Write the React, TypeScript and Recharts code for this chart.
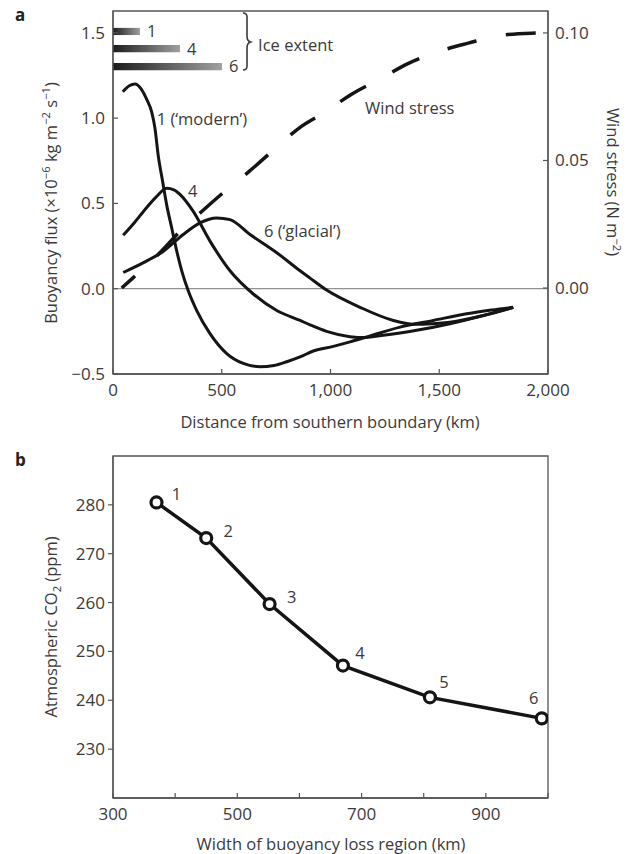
import React from 'react';
import {
  LineChart,
  Line,
  XAxis,
  YAxis,
  ReferenceLine,
  ReferenceArea,
  ReferenceDot,
  LabelList,
} from 'recharts';

const FONT = '"Open Sans", "Noto Sans", sans-serif';
const INK = '#3a3a3a';
const AXIS = '#555';
const CURVE = '#151515';

// ---- panel a: buoyancy flux and wind stress vs distance ----
const distTicks = [0, 500, 1000, 1500, 2000];
const fluxTicks = [-0.5, 0, 0.5, 1, 1.5];
const windTicks = [0, 0.05, 0.1];
const distDomain = [0, 2000];
const fluxDomain = [-0.5, 1.628];
const windDomain = [-0.0337, 0.1086];

const modernFlux = [
  { x: 45, y: 1.155 }, { x: 75, y: 1.19 }, { x: 101, y: 1.2 }, { x: 130, y: 1.17 },
  { x: 155, y: 1.11 }, { x: 178, y: 1.035 }, { x: 193, y: 0.94 }, { x: 208, y: 0.78 },
  { x: 228, y: 0.63 }, { x: 247, y: 0.49 }, { x: 270, y: 0.356 }, { x: 293, y: 0.221 },
  { x: 316, y: 0.105 }, { x: 346, y: -0.012 }, { x: 385, y: -0.128 }, { x: 446, y: -0.263 },
  { x: 523, y: -0.38 }, { x: 599, y: -0.438 }, { x: 676, y: -0.457 }, { x: 740, y: -0.45 },
  { x: 799, y: -0.428 }, { x: 860, y: -0.4 }, { x: 921, y: -0.365 }, { x: 1013, y: -0.338 },
  { x: 1090, y: -0.312 }, { x: 1166, y: -0.283 }, { x: 1320, y: -0.225 }, { x: 1473, y: -0.186 },
  { x: 1626, y: -0.147 }, { x: 1740, y: -0.125 }, { x: 1840, y: -0.109 },
];

const run4Flux = [
  { x: 47, y: 0.314 }, { x: 100, y: 0.39 }, { x: 140, y: 0.453 }, { x: 200, y: 0.54 },
  { x: 247, y: 0.589 }, { x: 280, y: 0.58 }, { x: 310, y: 0.55 }, { x: 369, y: 0.453 },
  { x: 446, y: 0.279 }, { x: 538, y: 0.105 }, { x: 645, y: -0.031 }, { x: 753, y: -0.128 },
  { x: 860, y: -0.186 }, { x: 906, y: -0.212 }, { x: 982, y: -0.25 }, { x: 1090, y: -0.281 },
  { x: 1160, y: -0.286 }, { x: 1243, y: -0.273 }, { x: 1396, y: -0.244 }, { x: 1549, y: -0.205 },
  { x: 1703, y: -0.157 }, { x: 1840, y: -0.109 },
];

const glacialFlux = [
  { x: 47, y: 0.095 }, { x: 140, y: 0.153 }, { x: 232, y: 0.22 }, { x: 323, y: 0.318 },
  { x: 400, y: 0.386 }, { x: 477, y: 0.415 }, { x: 538, y: 0.405 }, { x: 630, y: 0.318 },
  { x: 753, y: 0.211 }, { x: 860, y: 0.105 }, { x: 906, y: 0.062 }, { x: 982, y: -0.008 },
  { x: 1136, y: -0.109 }, { x: 1289, y: -0.186 }, { x: 1396, y: -0.209 }, { x: 1470, y: -0.205 },
  { x: 1549, y: -0.196 }, { x: 1703, y: -0.157 }, { x: 1840, y: -0.11 },
];

const windStress = [
  { x: 40, y: 0.0 }, { x: 92, y: 0.004 }, { x: 240, y: 0.016 }, { x: 294, y: 0.021 },
  { x: 408, y: 0.03 }, { x: 515, y: 0.038 }, { x: 630, y: 0.046 }, { x: 737, y: 0.054 },
  { x: 860, y: 0.063 }, { x: 975, y: 0.069 }, { x: 1097, y: 0.076 }, { x: 1228, y: 0.082 },
  { x: 1356, y: 0.088 }, { x: 1490, y: 0.0925 }, { x: 1633, y: 0.096 }, { x: 1776, y: 0.099 },
  { x: 1925, y: 0.0999 }, { x: 2000, y: 0.1 },
];

// ice extent bars (run, extent in km, vertical position in flux units)
const iceRuns = ['1', '4', '6'];
const iceExtentKm = [124, 308, 501];
const iceBarFlux = [1.508, 1.407, 1.302];

const annotations = [
  { text: '1 (\u2018modern\u2019)', x: 201, y: 0.996 },
  { text: '4', x: 345, y: 0.57 },
  { text: '6 (\u2018glacial\u2019)', x: 694, y: 0.337 },
  { text: 'Wind stress', x: 1159, y: 1.058 },
  { text: 'Ice extent', x: 667, y: 1.43 },
];

// ---- panel b: CO2 vs width of buoyancy loss region ----
const runLabels = ['1', '2', '3', '4', '5', '6'];
const lossWidthKm = [370, 450, 552, 670, 810, 990];
const co2Ppm = [280.5, 273.2, 259.7, 247.1, 240.6, 236.3];
const widthTicks = [300, 400, 500, 600, 700, 800, 900, 1000];
const widthLabels = [300, 500, 700, 900];
const co2Ticks = [230, 240, 250, 260, 270, 280];
const co2Domain = [220, 290];

const co2Points = lossWidthKm.map((w, i) => ({ x: w, y: co2Ppm[i], run: runLabels[i] }));
const runLabelOffset = [[20, -8], [22, -7], [22, -7], [17, -12], [14, -15], [-8, -20]];

const fmtFlux = (v: number) => (v < 0 ? '\u2212' + Math.abs(v).toFixed(1) : v.toFixed(1));
const fmtDist = (v: number) => (v >= 1000 ? `${Math.floor(v / 1000)},${String(v % 1000).padStart(3, '0')}` : String(v));

const textStyle = { fill: INK, fontSize: 16.5, fontFamily: FONT };
const tickText = { fill: INK, fontSize: 17, fontFamily: FONT };

// ticks point inwards, labels sit outside the frame
const BottomTick = (props: any) => {
  const { x, y, payload, labels, fmt } = props;
  const v = payload.value;
  const show = !labels || labels.includes(v);
  return (
    <g>
      <line x1={x} y1={y} x2={x} y2={y - 5} stroke={AXIS} strokeWidth={1.2} />
      {show && (
        <text x={x} y={y + 22} textAnchor="middle" {...tickText}>
          {fmt ? fmt(v) : v}
        </text>
      )}
    </g>
  );
};

const LeftTick = (props: any) => {
  const { x, y, payload, fmt, outward } = props;
  return (
    <g>
      <line x1={x} y1={y} x2={outward ? x - 5 : x + 5} y2={y} stroke={AXIS} strokeWidth={1.2} />
      <text x={x - 8} y={y} dy="0.35em" textAnchor="end" {...tickText}>
        {fmt(payload.value)}
      </text>
    </g>
  );
};

const RightTick = (props: any) => {
  const { x, y, payload } = props;
  return (
    <g>
      <line x1={x} y1={y} x2={x - 5} y2={y} stroke={AXIS} strokeWidth={1.2} />
      <text x={x + 7} y={y} dy="0.35em" textAnchor="start" {...tickText}>
        {payload.value.toFixed(2)}
      </text>
    </g>
  );
};

const sup = (s: string) => (
  <span style={{ fontSize: '0.68em', verticalAlign: 'super', lineHeight: 0 }}>{s}</span>
);

const Title = ({ x, y, rotate = 0, children }: any) => (
  <div
    style={{
      position: 'absolute',
      left: x,
      top: y,
      transform: `translate(-50%, -50%) rotate(${rotate}deg)`,
      whiteSpace: 'nowrap',
      fontSize: 16.5,
      color: INK,
      fontFamily: FONT,
    }}
  >
    {children}
  </div>
);

const App = () => {
  return (
    <div style={{ position: 'absolute', left: 0, top: 0, width: 633, height: 854, background: '#fff' }}>
      {/* panel a */}
      <div style={{ position: 'absolute', left: 0, top: 0 }}>
        <LineChart width={633} height={440} margin={{ top: 11, right: 0, bottom: 0, left: 0 }}>
          <defs>
            <linearGradient id="iceGrad" x1="0" y1="0" x2="1" y2="0">
              <stop offset="0" stopColor="#1c1c1c" />
              <stop offset="1" stopColor="#a0a0a0" />
            </linearGradient>
          </defs>
          <XAxis
            type="number"
            dataKey="x"
            domain={distDomain}
            ticks={distTicks}
            interval={0}
            allowDataOverflow
            height={66}
            tickSize={0}
            tickMargin={0}
            tickLine={false}
            axisLine={{ stroke: AXIS, strokeWidth: 1.3 }}
            tick={(p: any) => <BottomTick {...p} fmt={fmtDist} />}
          />
          <YAxis
            yAxisId="flux"
            type="number"
            domain={fluxDomain}
            ticks={fluxTicks}
            interval={0}
            allowDataOverflow
            width={113}
            tickSize={0}
            tickMargin={0}
            tickLine={false}
            axisLine={{ stroke: AXIS, strokeWidth: 1.3 }}
            tick={(p: any) => <LeftTick {...p} fmt={fmtFlux} />}
          />
          <YAxis
            yAxisId="wind"
            orientation="right"
            type="number"
            domain={windDomain}
            ticks={windTicks}
            interval={0}
            allowDataOverflow
            width={85}
            tickSize={0}
            tickMargin={0}
            tickLine={false}
            axisLine={{ stroke: AXIS, strokeWidth: 1.3 }}
            tick={(p: any) => <RightTick {...p} />}
          />
          <ReferenceArea
            yAxisId="flux"
            x1={distDomain[0]}
            x2={distDomain[1]}
            y1={fluxDomain[0]}
            y2={fluxDomain[1]}
            fill="none"
            stroke={AXIS}
            strokeWidth={1.3}
          />
          <ReferenceLine yAxisId="flux" y={0} stroke="#777" strokeWidth={1} />
          {iceRuns.map((r, i) => (
            <ReferenceArea
              key={r}
              yAxisId="flux"
              x1={0}
              x2={iceExtentKm[i]}
              y1={iceBarFlux[i] - 0.021}
              y2={iceBarFlux[i] + 0.021}
              fill="url(#iceGrad)"
              fillOpacity={1}
              stroke="none"
              label={{ value: r, position: 'right', offset: 7, ...textStyle }}
            />
          ))}
          {annotations.map((a) => (
            <ReferenceDot
              key={a.text}
              yAxisId="flux"
              x={a.x}
              y={a.y}
              r={0}
              fill="none"
              stroke="none"
              label={{ value: a.text, position: 'right', offset: 0, ...textStyle }}
            />
          ))}
          <Line
            yAxisId="wind"
            data={windStress}
            dataKey="y"
            type="monotone"
            stroke={CURVE}
            strokeWidth={3.5}
            strokeDasharray="30 30"
            strokeDashoffset={12}
            dot={false}
            isAnimationActive={false}
          />
          <Line yAxisId="flux" data={glacialFlux} dataKey="y" type="monotone" stroke={CURVE} strokeWidth={3} dot={false} isAnimationActive={false} />
          <Line yAxisId="flux" data={run4Flux} dataKey="y" type="monotone" stroke={CURVE} strokeWidth={3} dot={false} isAnimationActive={false} />
          <Line yAxisId="flux" data={modernFlux} dataKey="y" type="monotone" stroke={CURVE} strokeWidth={3} dot={false} isAnimationActive={false} />
        </LineChart>
      </div>
      <svg width={633} height={440} style={{ position: 'absolute', left: 0, top: 0, pointerEvents: 'none' }}>
        <path d="M243,13 q4,0 4,4 v19 q0,5 3.5,6 q-3.5,1 -3.5,6 v18 q0,4 -4,4" fill="none" stroke={INK} strokeWidth={1.6} />
      </svg>

      {/* panel b */}
      <div style={{ position: 'absolute', left: 0, top: 440 }}>
        <LineChart width={633} height={414} margin={{ top: 16, right: 85, bottom: 0, left: 0 }}>
          <XAxis
            type="number"
            dataKey="x"
            domain={[widthTicks[0], widthTicks[widthTicks.length - 1]]}
            ticks={widthTicks}
            interval={0}
            allowDataOverflow
            height={56}
            tickSize={0}
            tickMargin={0}
            tickLine={false}
            axisLine={{ stroke: AXIS, strokeWidth: 1.3 }}
            tick={(p: any) => <BottomTick {...p} labels={widthLabels} />}
          />
          <YAxis
            type="number"
            domain={co2Domain}
            ticks={co2Ticks}
            interval={0}
            allowDataOverflow
            width={113}
            tickSize={0}
            tickMargin={0}
            tickLine={false}
            axisLine={{ stroke: AXIS, strokeWidth: 1.3 }}
            tick={(p: any) => <LeftTick {...p} outward fmt={(v: number) => String(v)} />}
          />
          <ReferenceArea
            x1={widthTicks[0]}
            x2={widthTicks[widthTicks.length - 1]}
            y1={co2Domain[0]}
            y2={co2Domain[1]}
            fill="none"
            stroke={AXIS}
            strokeWidth={1.3}
          />
          <Line
            data={co2Points}
            dataKey="y"
            type="linear"
            stroke={CURVE}
            strokeWidth={3.5}
            dot={{ r: 5.5, fill: '#fff', stroke: CURVE, strokeWidth: 3.2 }}
            isAnimationActive={false}
          >
            <LabelList
              dataKey="run"
              content={(p: any) => {
                const o = runLabelOffset[p.index] || [14, -12];
                return (
                  <text x={p.x + o[0]} y={p.y + o[1]} dy="0.35em" textAnchor="middle" {...textStyle}>
                    {p.value}
                  </text>
                );
              }}
            />
          </Line>
        </LineChart>
      </div>

      {/* panel letters and axis titles */}
      <div style={{ position: 'absolute', left: 15, top: 3, fontSize: 17, fontWeight: 700, fontFamily: FONT, color: '#222' }}>a</div>
      <div style={{ position: 'absolute', left: 15, top: 448, fontSize: 17, fontWeight: 700, fontFamily: FONT, color: '#222' }}>b</div>
      <Title x={50} y={203} rotate={-90}>
        Buoyancy flux (×10{sup('\u22126')} kg m{sup('\u22122')} s{sup('\u22121')})
      </Title>
      <Title x={613} y={182} rotate={90}>
        Wind stress (N m{sup('\u22122')})
      </Title>
      <Title x={330} y={421}>Distance from southern boundary (km)</Title>
      <Title x={50} y={627} rotate={-90}>
        Atmospheric CO<span style={{ fontSize: '0.68em', verticalAlign: 'sub', lineHeight: 0 }}>2</span> (ppm)
      </Title>
      <Title x={331} y={843}>Width of buoyancy loss region (km)</Title>
    </div>
  );
};

export default App;
